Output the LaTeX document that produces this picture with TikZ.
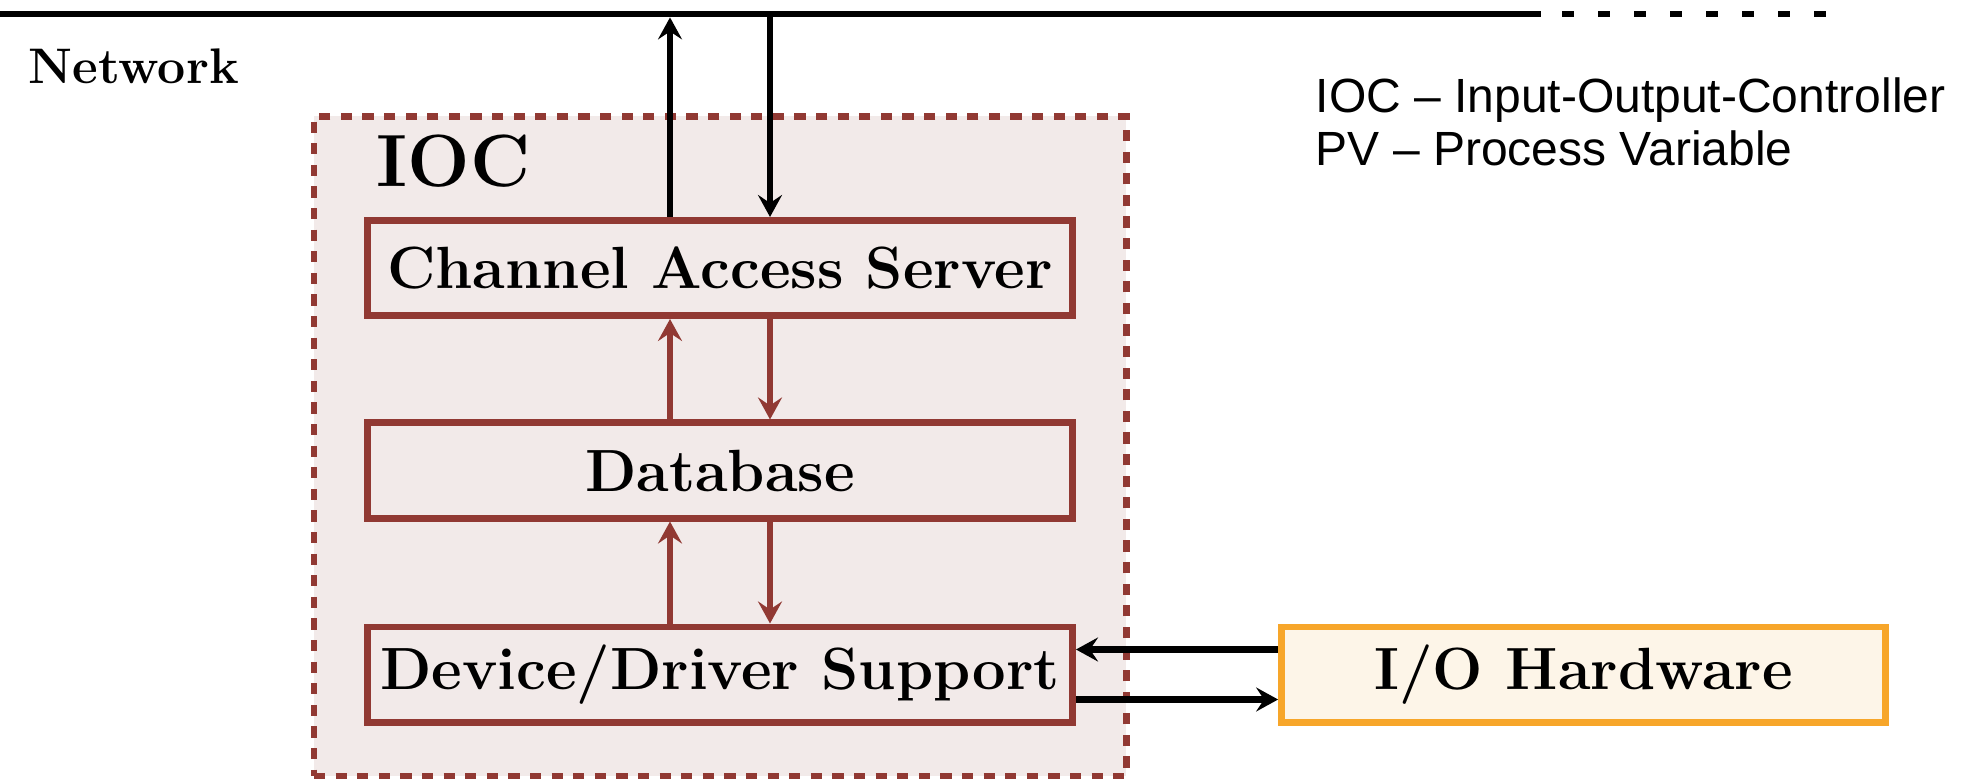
\documentclass[tikz,border=0pt]{standalone}
\usepackage{fontspec}
\usepackage{tikz}
\usetikzlibrary{arrows.meta,calc}
\newfontfamily\legendfont{Liberation Sans}

\definecolor{iocred}{RGB}{145,57,51}
\definecolor{iocfill}{RGB}{242,234,233}
\definecolor{hworange}{RGB}{247,166,42}
\definecolor{hwfill}{RGB}{253,245,232}

\tikzset{
  iocbox/.style={draw=iocred,fill=iocfill,line width=1.7pt,dash pattern=on 2.8pt off 2.6pt,minimum width=203.1pt,minimum height=164.9pt,inner sep=0pt},
  layerbox/.style={draw=iocred,line width=1.7pt,minimum width=176.3pt,minimum height=23.8pt,inner sep=0pt,font=\fontsize{14.9pt}{18pt}\selectfont\bfseries},
  hwbox/.style={draw=hworange,fill=hwfill,line width=1.7pt,minimum width=151pt,minimum height=23.8pt,inner sep=0pt,font=\fontsize{14.9pt}{18pt}\selectfont\bfseries},
  netarrow/.style={-{Stealth[length=5.5pt,width=6pt,inset=2pt]},line width=1.7pt},
  layerarrow/.style={-{Stealth[length=5.5pt,width=6pt,inset=2pt]},line width=1.7pt,draw=iocred},
  legendtext/.style={anchor=base west,inner sep=0pt,font=\legendfont\fontsize{12pt}{14pt}\selectfont}
}

\begin{document}
\begin{tikzpicture}[x=0.25pt,y=0.25pt,yscale=-1,xscale=1]
\useasboundingbox (0,0) rectangle (1968,779);

%Shape: IOC container
\node [iocbox] (ioc) at (720.25,446.25) {};

% Network line
\coordinate (netL) at (0,14);
\coordinate (netR) at (1541,14);
\coordinate (dotL) at (1562,14);
\coordinate (dotR) at (1840,14);
\draw [line width=1.7pt] (netL) -- (netR);
\draw [line width=1.7pt,dash pattern=on 3pt off 6pt] (dotL) -- (dotR);

% Layer boxes
\node [layerbox] (cas) at (720,268) {Channel Access Server};
\node [layerbox] (db) at (720,470.5) {Database};
\node [layerbox] (dds) at (720,674.5) {Device/Driver Support};
\node [hwbox] (hw) at (1583.5,674.5) {I/O Hardware};

% Text Node
\node [anchor=base west,inner sep=0pt,font=\fontsize{18.5pt}{22pt}\selectfont\bfseries] (ioclabel) at (376,187) {IOC};
% Text Node
\node [anchor=base west,inner sep=0pt,font=\fontsize{12.5pt}{15pt}\selectfont\bfseries] (netlabel) at (28,84) {Network};
% Text Node
\node [legendtext] (legendioc) at (1315,113) {IOC – Input-Output-Controller};
\node [legendtext] (legendpv) at (1315,166) {PV – Process Variable};

% Network arrows
\draw [netarrow,shorten >=0.85pt] ([xshift=-12.5pt]cas.north) -- ([xshift=-12.5pt]cas.north |- netL);
\draw [netarrow] ([xshift=12.5pt]cas.north |- netL) -- ([xshift=12.5pt]cas.north);

% Layer arrows
\draw [layerarrow] ([xshift=-12.5pt]db.north) -- ([xshift=-12.5pt]cas.south);
\draw [layerarrow] ([xshift=12.5pt]cas.south) -- ([xshift=12.5pt]db.north);
\draw [layerarrow] ([xshift=-12.5pt]dds.north) -- ([xshift=-12.5pt]db.south);
\draw [layerarrow] ([xshift=12.5pt]db.south) -- ([xshift=12.5pt]dds.north);

% Hardware arrows
\draw [netarrow] ([yshift=-6.25pt]hw.west) -- ([yshift=-6.25pt]dds.east);
\draw [netarrow] ([yshift=6.25pt]dds.east) -- ([yshift=6.25pt]hw.west);

\end{tikzpicture}
\end{document}
